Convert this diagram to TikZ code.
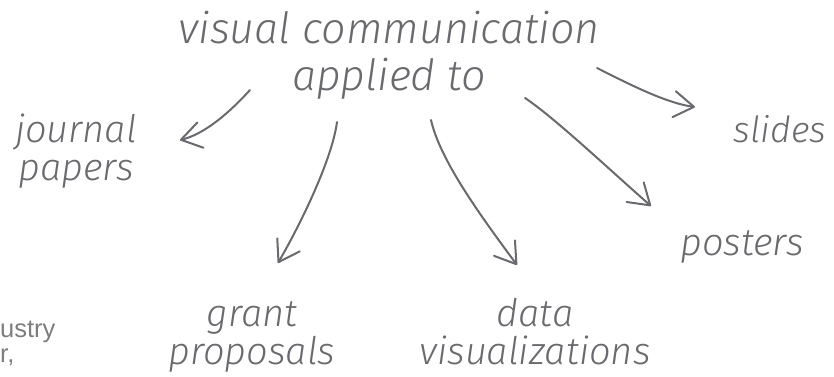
\documentclass[tikz,border=0pt]{standalone}
\usepackage{fontspec}
\setmainfont{Fira Sans}
\newfontfamily\hand{Fira Sans Light Italic}
\newfontfamily\fragfont{Liberation Sans}
\usetikzlibrary{arrows.meta}
\definecolor{ink}{RGB}{105,105,110}
\definecolor{faint}{RGB}{125,125,128}
\begin{document}
\begin{tikzpicture}[x=1pt,y=-1pt,
  lbl/.style={font=\hand\fontsize{38}{38}\selectfont, text=ink, align=center, inner sep=0pt, anchor=base},
  ttl/.style={font=\hand\fontsize{43}{47}\selectfont, text=ink, align=center, inner sep=0pt, anchor=base},
  frag/.style={font=\fragfont\fontsize{25.5}{25}\selectfont, text=faint, align=left, inner sep=0pt, anchor=base west},
  arr/.style={draw=ink, line width=2pt, line cap=round, -{Straight Barb[length=20pt,width=26pt,line width=2pt,round]}}]
\useasboundingbox (0,0) rectangle (834,376);
% anchor=base of a multi-line node is the baseline of its last line
\node[ttl] (title) at (389,90) {visual communication\\applied to};
\node[lbl] (journal) at (76,180) {journal\\papers};
\node[lbl, font=\hand\fontsize{36}{38}\selectfont] (slides) at (780,142) {slides};
\node[lbl] (posters) at (742,255) {posters};
\node[lbl] (grant) at (252,364) {grant\\proposals};
\node[lbl] (data) at (535,364) {data\\visualizations};
\node[frag] (frag) at (0,362) {ustry\\r,};
% connector end points
\coordinate (sJ) at (250,90);  \coordinate (eJ) at (180,140);
\coordinate (sG) at (337,122); \coordinate (eG) at (278,263);
\coordinate (sD) at (431,120); \coordinate (eD) at (517,265);
\coordinate (sP) at (525,98);  \coordinate (eP) at (651,206);
\coordinate (sS) at (597,68);  \coordinate (eS) at (695,107);
\draw[arr] (sJ) .. controls (230,112) and (205,134) .. (eJ);
\draw[arr] (sG) .. controls (332,160) and (300,225) .. (eG);
\draw[arr] (sD) .. controls (440,160) and (480,215) .. (eD);
\draw[arr] (sP) .. controls (555,118) and (612,172) .. (eP);
\draw[arr] (sS) .. controls (625,82) and (665,103) .. (eS);
\end{tikzpicture}
\end{document}
